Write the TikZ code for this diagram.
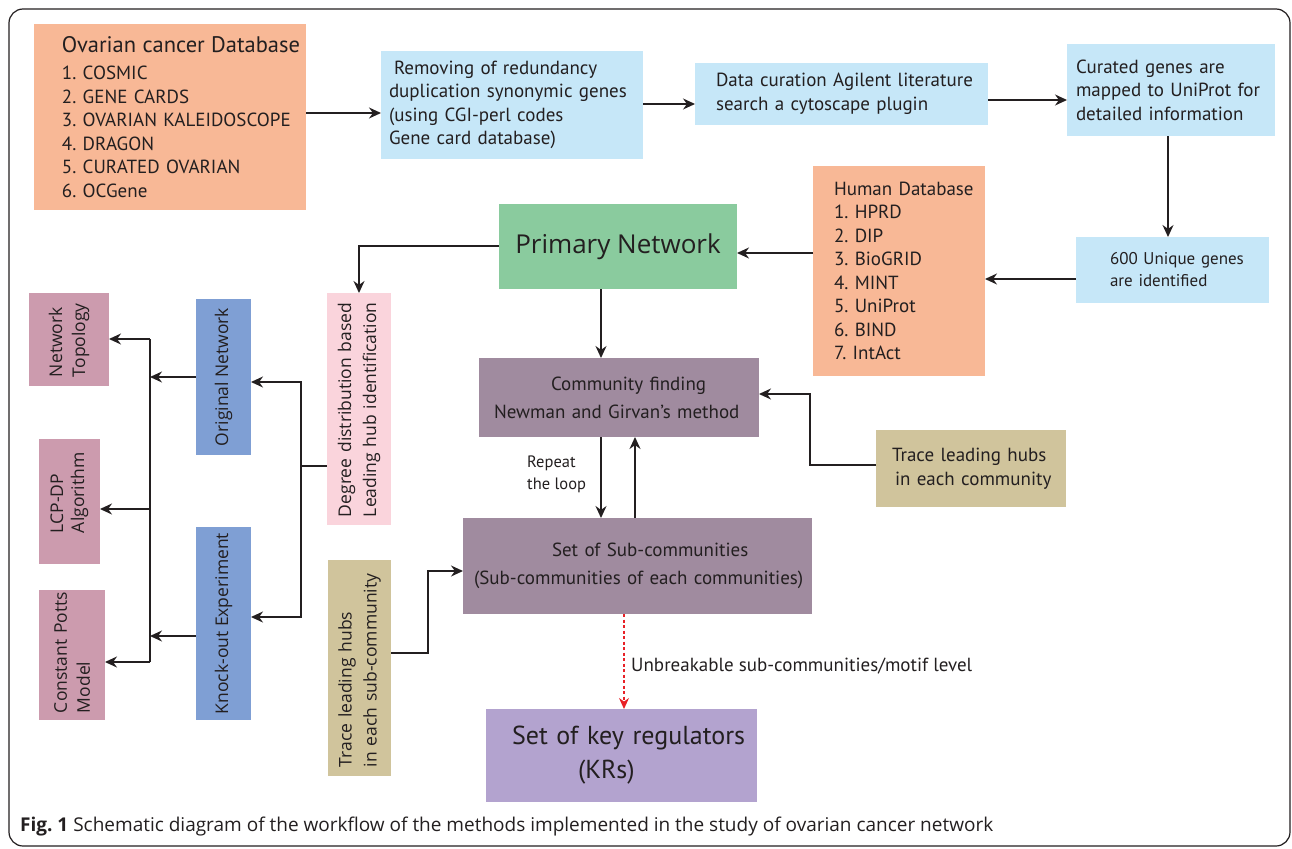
\documentclass[tikz,border=0pt]{standalone}
\usepackage{fontspec}
\setmainfont{PT Sans}
\newfontfamily\osans{Open Sans}
\usetikzlibrary{arrows.meta}
\definecolor{salmon}{HTML}{F8B896}
\definecolor{lblue}{HTML}{C6E7F8}
\definecolor{green}{HTML}{8ACB9E}
\definecolor{pinkb}{HTML}{FAD4DC}
\definecolor{blueb}{HTML}{7F9FD4}
\definecolor{mauve}{HTML}{CC9BAE}
\definecolor{pgrey}{HTML}{A08B9F}
\definecolor{tan}{HTML}{D0C49C}
\definecolor{lav}{HTML}{B3A3CF}
\definecolor{dk}{HTML}{231F20}
\definecolor{redc}{HTML}{E82127}
\newcommand\tl[2]{\mbox{\hspace{#1}#2}}
\begin{document}
\frenchspacing
\begin{tikzpicture}[x=1pt,y=-1pt,
  box/.style={draw=none, inner sep=0pt, outer sep=0pt, text=dk, align=left, font=\fontsize{19}{23.5}\selectfont},
  vbox/.style={box, rotate=90, font=\osans\fontsize{17.5}{25}\selectfont},
  arr/.style={-{Stealth[length=12pt,width=11pt]}, line width=1.4pt, draw=dk},
  ln/.style={line width=1.4pt, draw=dk},
  darr/.style={-{Stealth[length=11pt,width=10pt]}, line width=1.3pt, draw=redc, dash pattern=on 3pt off 2.5pt},
  lbl/.style={inner sep=0pt, text=dk, anchor=west}]
\useasboundingbox (0,0) rectangle (1292,848);
\draw[line width=1.2pt, draw=dk, rounded corners=14pt] (9,9) rectangle (1290,846);

% top row
\node[box, fill=salmon, minimum width=272pt, minimum height=186pt, text width=272pt] (ovar) at (170,117)
 {\tl{28pt}{\fontsize{22.5}{26}\selectfont Ovarian cancer Database}\\[4pt]
  \tl{28pt}{1. COSMIC}\\\tl{28pt}{2. GENE CARDS}\\\tl{28pt}{3. OVARIAN KALEIDOSCOPE}\\
  \tl{28pt}{4. DRAGON}\\\tl{28pt}{5. CURATED OVARIAN}\\\tl{28pt}{6. OCGene}};
\node[box, fill=lblue, minimum width=262pt, minimum height=108pt, text width=262pt] (remove) at (512,105)
 {\tl{13pt}{Removing of redundancy}\\\tl{8pt}{duplication synonymic genes}\\\tl{8pt}{(using CGI-perl codes}\\\tl{8pt}{Gene card database)}};
\node[box, fill=lblue, minimum width=293pt, minimum height=62pt, text width=293pt] (curation) at (841.5,94)
 {\tl{21pt}{Data curation Agilent literature}\\\tl{21pt}{search a cytoscape plugin}};
\node[box, fill=lblue, minimum width=208pt, minimum height=92pt, text width=208pt] (curated) at (1171,90)
 {\tl{9pt}{Curated genes are}\\\tl{9pt}{mapped to UniProt for}\\\tl{9pt}{detailed information}};
\node[box, fill=lblue, minimum width=193pt, minimum height=66pt, text width=193pt, font=\fontsize{17}{22}\selectfont] (unique) at (1172.5,270)
 {\tl{34pt}{600 Unique genes}\\\tl{34pt}{are identified}};
\node[box, fill=salmon, minimum width=172pt, minimum height=210pt, text width=172pt] (human) at (899,271)
 {\tl{21pt}{Human Database}\\\tl{21pt}{1. HPRD}\\\tl{21pt}{2. DIP}\\\tl{21pt}{3. BioGRID}\\\tl{21pt}{4. MINT}\\\tl{21pt}{5. UniProt}\\\tl{21pt}{6. BIND}\\\tl{21pt}{7. IntAct}};
\node[box, fill=green, minimum width=238pt, minimum height=85pt, align=center, font=\osans\fontsize{26}{32}\selectfont] (primary) at (618,246.5) {Primary Network};

% middle
\node[box, fill=pgrey, minimum width=280pt, minimum height=79pt, text width=280pt, font=\fontsize{19}{28}\selectfont] (community) at (619,397.5)
 {\tl{72pt}{Community finding}\\\tl{15pt}{Newman and Girvan's method}};
\node[box, fill=pgrey, minimum width=349pt, minimum height=96pt, text width=349pt, font=\fontsize{19}{28}\selectfont] (sub) at (637.5,566)
 {\tl{89pt}{Set of Sub-communities}\\\tl{11pt}{(Sub-communities of each communities)}};
\node[box, fill=tan, minimum width=190pt, minimum height=77pt, text width=190pt, font=\fontsize{19}{23.5}\selectfont] (trace1) at (971,468.5)
 {\tl{16pt}{Trace leading hubs}\\\tl{19pt}{in each community}};
\node[box, fill=lav, minimum width=271pt, minimum height=93pt, text width=271pt, font=\fontsize{26}{34}\selectfont] (krs) at (621.5,755.5)
 {\tl{26pt}{Set of key regulators}\\\tl{92pt}{(KRs)}};

% vertical boxes
\node[vbox, fill=pinkb, minimum width=232pt, minimum height=64pt, text width=232pt] (degree) at (359,409)
 {\tl{8pt}{Degree distribution based}\\\tl{8pt}{Leading hub identification}};
\node[vbox, fill=blueb, minimum width=156pt, minimum height=55pt, align=center] (orig) at (223.5,377) {Original Network};
\node[vbox, fill=blueb, minimum width=193pt, minimum height=55pt, align=center] (knock) at (223.5,623.5) {Knock-out Experiment};
\node[vbox, fill=mauve, minimum width=93pt, minimum height=80pt, text width=93pt, font=\osans\fontsize{17.5}{23}\selectfont] (topo) at (69,339.5)
 {\tl{9pt}{Network}\\\tl{9pt}{Topology}};
\node[vbox, fill=mauve, minimum width=125pt, minimum height=61pt, text width=125pt, font=\osans\fontsize{17.5}{21}\selectfont] (lcp) at (69.5,501.5)
 {\tl{31pt}{LCP-DP}\\\tl{31pt}{Algorithm}};
\node[vbox, fill=mauve, minimum width=130pt, minimum height=66pt, text width=130pt, font=\osans\fontsize{17.5}{23}\selectfont] (potts) at (72,655)
 {\tl{7pt}{Constant Potts}\\\tl{7pt}{Model}};
\node[vbox, fill=tan, minimum width=216pt, minimum height=63pt, text width=216pt] (trace2) at (359.5,668)
 {\tl{9pt}{Trace leading hubs}\\\tl{9pt}{in each sub-community}};

% connectors top
\draw[arr] (ovar.east |- 0,113) -- (remove.west |- 0,113);
\draw[arr] (remove.east |- 0,104) -- (curation.west |- 0,104);
\draw[arr] (curation.east |- 0,100) -- (curated.west |- 0,100);
\draw[arr] (curated.south -| 1168,0) -- (unique.north -| 1168,0);
\draw[arr] (unique.west |- 0,279) -- (human.east |- 0,279);
\draw[arr] (human.west |- 0,253) -- (primary.east |- 0,253);
\draw[arr] (primary.west |- 0,246) -| (degree.east);
\draw[arr] (primary.south -| 601,0) -- (community.north -| 601,0);
% loop
\draw[arr] (community.south -| 601,0) -- (sub.north -| 601,0);
\draw[arr] (sub.north -| 635,0) -- (community.south -| 635,0);
\node[lbl, align=left, font=\fontsize{16.5}{22}\selectfont] (rep) at (527,474) {Repeat\\the loop};
\draw[arr] (trace1.west |- 0,465) -| (810,394) -- (community.east |- 0,394);
\draw[arr] (trace2.south |- 0,653) -| (428,571) -- (sub.west |- 0,571);
\draw[darr] (sub.south -| 624,0) -- (krs.north -| 624,0);
\node[lbl, font=\fontsize{19}{22}\selectfont] (unb) at (631,666) {Unbreakable sub-communities/motif level};

% left tree
\coordinate (split) at (301,466);
\draw[ln] (degree.north |- split) -- (split);
\draw[arr] (split) |- (orig.south |- 0,382);
\draw[arr] (split) |- (knock.south |- 0,617);
\coordinate (bustop) at (150,339);
\coordinate (busbot) at (150,662);
\draw[ln] (bustop) -- (busbot);
\draw[arr] (orig.north |- 0,377) -- (bustop |- 0,377);
\draw[arr] (knock.north |- 0,636) -- (bustop |- 0,636);
\draw[arr] (bustop) -- (topo.south |- bustop);
\draw[arr] (bustop |- 0,509) -- (lcp.south |- 0,509);
\draw[arr] (busbot) -- (potts.south |- busbot);

% caption
\node[lbl, font=\osans\fontsize{19}{22}\selectfont] (cap) at (20,827)
 {\textbf{Fig. 1} Schematic diagram of the workflow of the methods implemented in the study of ovarian cancer network};
\end{tikzpicture}
\end{document}
